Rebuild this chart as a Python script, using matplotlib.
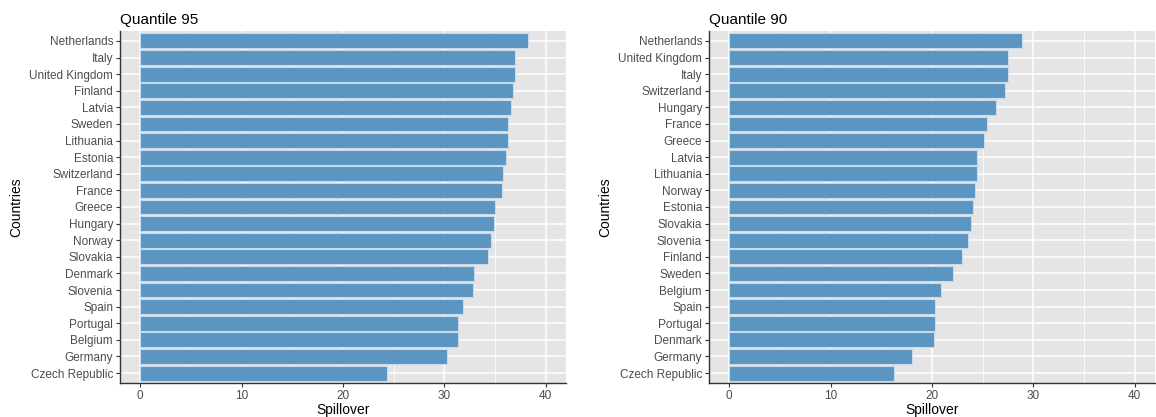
import numpy as np
import matplotlib.pyplot as plt
from matplotlib.ticker import MultipleLocator

plt.rcParams['font.family'] = ['Liberation Sans', 'DejaVu Sans']

# quantile 95 spillovers, sorted high to low
countries_95 = ['Netherlands', 'Italy', 'United Kingdom', 'Finland', 'Latvia',
                'Sweden', 'Lithuania', 'Estonia', 'Switzerland', 'France',
                'Greece', 'Hungary', 'Norway', 'Slovakia', 'Denmark',
                'Slovenia', 'Spain', 'Portugal', 'Belgium', 'Germany',
                'Czech Republic']
spill_95 = [38.26, 36.97, 36.97, 36.78, 36.62, 36.32, 36.30, 36.06, 35.80,
            35.70, 35.04, 34.94, 34.65, 34.29, 32.90, 32.80, 31.86, 31.30,
            31.30, 30.28, 24.37]

# quantile 90 spillovers
countries_90 = ['Netherlands', 'United Kingdom', 'Italy', 'Switzerland',
                'Hungary', 'France', 'Greece', 'Latvia', 'Lithuania', 'Norway',
                'Estonia', 'Slovakia', 'Slovenia', 'Finland', 'Sweden',
                'Belgium', 'Spain', 'Portugal', 'Denmark', 'Germany',
                'Czech Republic']
spill_90 = [28.83, 27.45, 27.45, 27.25, 26.30, 25.38, 25.12, 24.46, 24.40,
            24.20, 24.04, 23.84, 23.54, 22.99, 22.07, 20.85, 20.29, 20.29,
            20.20, 18.06, 16.22]

fig = plt.figure(figsize=(11.56, 4.17), dpi=100)
ax1 = fig.add_axes([120/1156, 1 - 383/417, 446/1156, 352/417])
ax2 = fig.add_axes([709/1156, 1 - 383/417, 446/1156, 352/417])


def draw(ax, names, vals, title):
    n = len(names)
    y = np.arange(n)[::-1]
    ax.set_facecolor('#E5E5E5')
    ax.set_axisbelow(True)
    ax.barh(y, vals, height=0.9, color='#5B96C3', edgecolor='#C9DBEA',
            linewidth=0.8, zorder=3)
    ax.set_xlim(-2, 42)
    ax.set_ylim(-0.6, n - 0.4)
    ax.set_yticks(y)
    ax.set_yticklabels(names)
    ax.xaxis.set_major_locator(MultipleLocator(10))
    ax.xaxis.set_minor_locator(MultipleLocator(5))
    ax.grid(which='major', color='white', linewidth=1.1)
    ax.grid(which='minor', axis='x', color='white', linewidth=0.55)
    ax.tick_params(which='minor', length=0)
    ax.tick_params(which='major', length=3, width=0.8, color='#333333',
                   labelsize=8.5, labelcolor='#4D4D4D', pad=2)
    for s in ['top', 'right']:
        ax.spines[s].set_visible(False)
    for s in ['left', 'bottom']:
        ax.spines[s].set_color('#333333')
        ax.spines[s].set_linewidth(1.0)
    ax.set_xlabel('Spillover', fontsize=10, labelpad=0.5)
    ax.set_ylabel('Countries', fontsize=10, labelpad=4)
    ax.set_title(title, loc='left', fontsize=11, pad=5)


draw(ax1, countries_95, spill_95, 'Quantile 95')
draw(ax2, countries_90, spill_90, 'Quantile 90')

fig.savefig('out.png', dpi=100)
